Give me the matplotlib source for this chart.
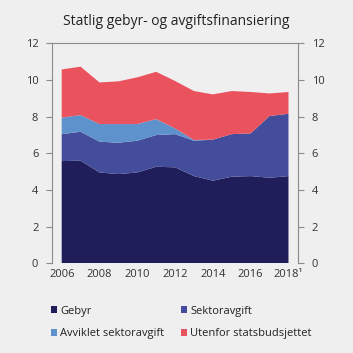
import matplotlib

matplotlib.use("Agg")
import matplotlib.pyplot as plt
from matplotlib.patches import Patch

plt.rcParams["font.family"] = ["Open Sans", "DejaVu Sans"]

YEARS = list(range(2006, 2019))
GEBYR = [5.58, 5.60, 4.96, 4.87, 4.96, 5.27, 5.24, 4.76, 4.51, 4.73, 4.76, 4.67, 4.76]
SEKTOR = [1.47, 1.58, 1.68, 1.71, 1.73, 1.73, 1.81, 1.93, 2.24, 2.32, 2.33, 3.37, 3.40]
AVVIKLET = [0.90, 0.91, 0.96, 1.02, 0.91, 0.87, 0.31, 0.04, 0.0, 0.0, 0.0, 0.0, 0.0]
UTENFOR = [2.63, 2.64, 2.27, 2.33, 2.55, 2.58, 2.59, 2.67, 2.47, 2.35, 2.26, 1.23, 1.19]
LABELS = ["Gebyr", "Sektoravgift", "Avviklet sektoravgift", "Utenfor statsbudsjettet"]
XTICKS = [2006, 2008, 2010, 2012, 2014, 2016, 2018]
XTICKLABELS = ["2006", "2008", "2010", "2012", "2014", "2016", "2018\u00b9"]
YTICKS = [0, 2, 4, 6, 8, 10, 12]

BG = "#efefef"
COLORS = ["#201e5a", "#444d9c", "#5e92cc", "#ea525e"]
GREY = "#8a8a8a"

fig = plt.figure(figsize=(3.53, 3.53), dpi=100, facecolor=BG)
ax = fig.add_axes([0.148, 0.254, 0.696, 0.623], facecolor=BG)

ax.stackplot(YEARS, GEBYR, SEKTOR, AVVIKLET, UTENFOR, colors=COLORS, linewidth=0)
ax.set_xlim(2005.5, 2018.5)
ax.set_ylim(0, 12)
ax.set_yticks(YTICKS)
ax.set_xticks(XTICKS)
ax.set_xticklabels(XTICKLABELS)
ax.tick_params(axis="y", which="both", left=True, right=True, labelleft=True, labelright=True,
               length=4, color=GREY, labelsize=8, labelcolor="#333333", pad=6)
ax.tick_params(axis="x", length=0, labelsize=8, labelcolor="#333333", pad=4)
for side in ("left", "right", "top"):
    ax.spines[side].set_color(GREY)
    ax.spines[side].set_linewidth(0.8)
ax.spines["bottom"].set_visible(False)

fig.text(0.5, 0.94, "Statlig gebyr- og avgiftsfinansiering", ha="center", va="center",
         fontsize=10, fontweight="medium", color="#222222")

# legend is filled column-wise, so order for row-wise reading
order = [0, 2, 1, 3]
handles = [Patch(facecolor=COLORS[i], edgecolor="none") for i in order]
fig.legend(handles, [LABELS[i] for i in order], ncol=2, loc="upper left",
           bbox_to_anchor=(0.115, 0.162), frameon=False, fontsize=8,
           handlelength=0.6, handleheight=0.6, handletextpad=0.25,
           columnspacing=1.5, labelspacing=1.05, labelcolor="#222222")

fig.savefig("out.png", dpi=100, facecolor=BG)
